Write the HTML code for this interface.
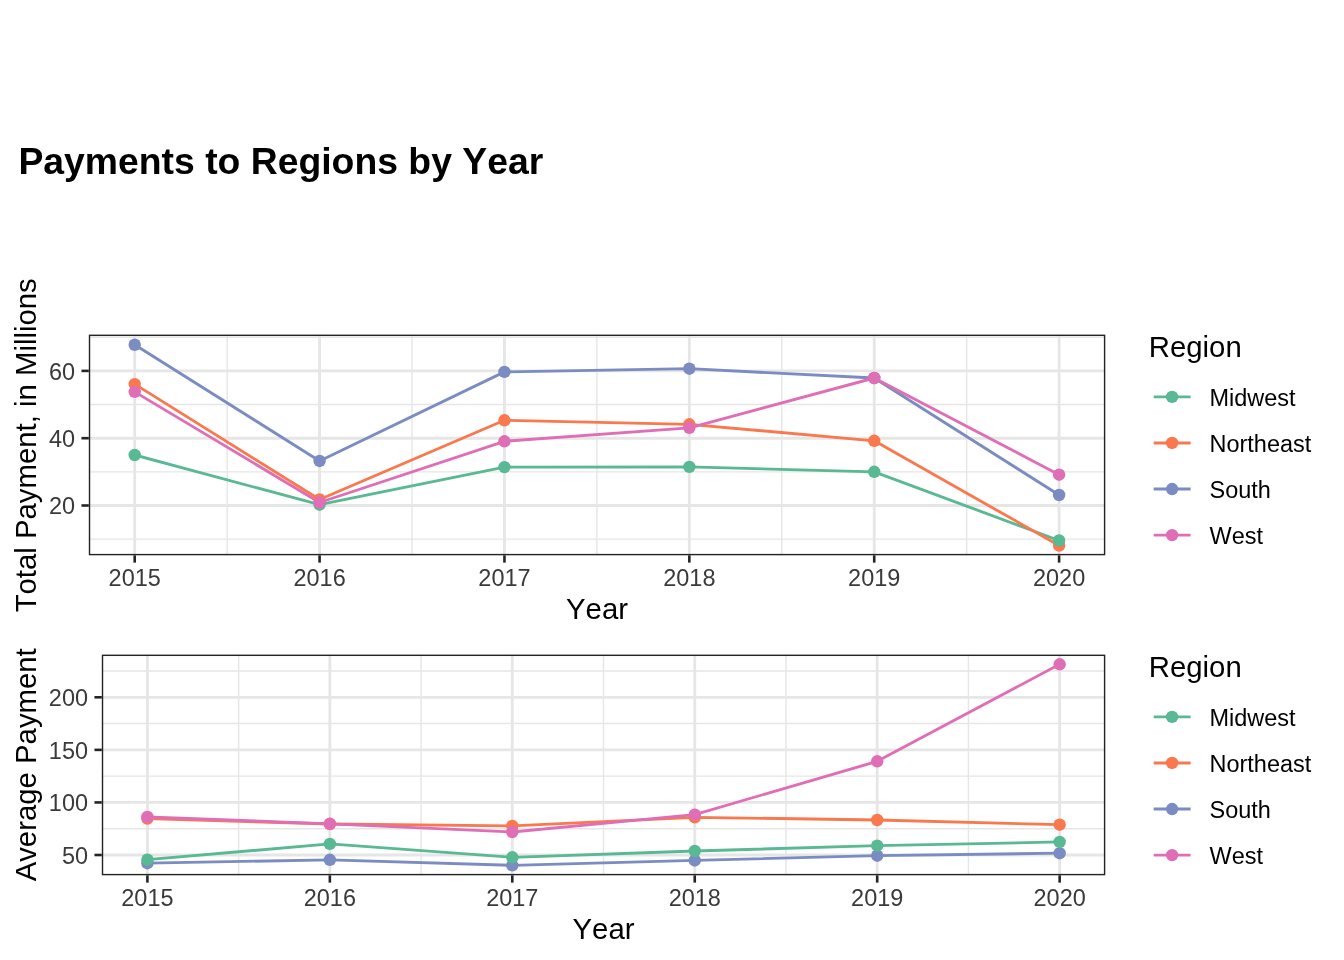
<!DOCTYPE html>
<html><head><meta charset="utf-8"><title>Payments to Regions by Year</title>
<style>html,body{margin:0;padding:0;background:#fff;overflow:hidden;}svg{display:block;will-change:transform;}text{font-family:'Liberation Sans', sans-serif;font-kerning:none;font-variant-ligatures:none;}</style>
</head><body>
<svg width="1344" height="960" viewBox="0 0 1344 960">
<rect x="0" y="0" width="1344" height="960" fill="#FFFFFF"/>
<text transform="translate(18.4,174.2)" font-size="37.33" font-weight="bold" fill="#000">Payments to Regions by Year</text>
<clipPath id="c334"><rect x="88.8" y="334.6" width="1016.5" height="220.69999999999993"/></clipPath>
<g clip-path="url(#c334)">
<line x1="88.8" x2="1105.3" y1="337.25" y2="337.25" stroke="#E6E6E6" stroke-width="1.42"/>
<line x1="88.8" x2="1105.3" y1="404.55" y2="404.55" stroke="#E6E6E6" stroke-width="1.42"/>
<line x1="88.8" x2="1105.3" y1="471.85" y2="471.85" stroke="#E6E6E6" stroke-width="1.42"/>
<line x1="88.8" x2="1105.3" y1="539.15" y2="539.15" stroke="#E6E6E6" stroke-width="1.42"/>
<line x1="227.14" x2="227.14" y1="334.6" y2="555.3" stroke="#E6E6E6" stroke-width="1.42"/>
<line x1="412.02" x2="412.02" y1="334.6" y2="555.3" stroke="#E6E6E6" stroke-width="1.42"/>
<line x1="596.90" x2="596.90" y1="334.6" y2="555.3" stroke="#E6E6E6" stroke-width="1.42"/>
<line x1="781.78" x2="781.78" y1="334.6" y2="555.3" stroke="#E6E6E6" stroke-width="1.42"/>
<line x1="966.66" x2="966.66" y1="334.6" y2="555.3" stroke="#E6E6E6" stroke-width="1.42"/>
<line x1="88.8" x2="1105.3" y1="370.90" y2="370.90" stroke="#E6E6E6" stroke-width="2.85"/>
<line x1="88.8" x2="1105.3" y1="438.20" y2="438.20" stroke="#E6E6E6" stroke-width="2.85"/>
<line x1="88.8" x2="1105.3" y1="505.50" y2="505.50" stroke="#E6E6E6" stroke-width="2.85"/>
<line x1="134.70" x2="134.70" y1="334.6" y2="555.3" stroke="#E6E6E6" stroke-width="2.85"/>
<line x1="319.58" x2="319.58" y1="334.6" y2="555.3" stroke="#E6E6E6" stroke-width="2.85"/>
<line x1="504.46" x2="504.46" y1="334.6" y2="555.3" stroke="#E6E6E6" stroke-width="2.85"/>
<line x1="689.34" x2="689.34" y1="334.6" y2="555.3" stroke="#E6E6E6" stroke-width="2.85"/>
<line x1="874.22" x2="874.22" y1="334.6" y2="555.3" stroke="#E6E6E6" stroke-width="2.85"/>
<line x1="1059.10" x2="1059.10" y1="334.6" y2="555.3" stroke="#E6E6E6" stroke-width="2.85"/>
<polyline points="134.70,455.00 319.58,504.70 504.46,467.10 689.34,466.90 874.22,471.80 1059.10,540.50" fill="none" stroke="#58B993" stroke-width="2.85" stroke-linejoin="round" stroke-linecap="butt"/>
<polyline points="134.70,384.10 319.58,499.50 504.46,420.30 689.34,424.30 874.22,440.80 1059.10,545.50" fill="none" stroke="#F9784E" stroke-width="2.85" stroke-linejoin="round" stroke-linecap="butt"/>
<polyline points="134.70,344.75 319.58,460.95 504.46,371.90 689.34,368.70 874.22,378.00 1059.10,495.00" fill="none" stroke="#7A8CC1" stroke-width="2.85" stroke-linejoin="round" stroke-linecap="butt"/>
<polyline points="134.70,391.85 319.58,502.50 504.46,441.30 689.34,427.80 874.22,378.00 1059.10,474.70" fill="none" stroke="#E06EB6" stroke-width="2.85" stroke-linejoin="round" stroke-linecap="butt"/>
<circle cx="134.70" cy="344.75" r="6.2" fill="#7A8CC1"/>
<circle cx="319.58" cy="460.95" r="6.2" fill="#7A8CC1"/>
<circle cx="504.46" cy="371.90" r="6.2" fill="#7A8CC1"/>
<circle cx="689.34" cy="368.70" r="6.2" fill="#7A8CC1"/>
<circle cx="874.22" cy="378.00" r="6.2" fill="#7A8CC1"/>
<circle cx="1059.10" cy="495.00" r="6.2" fill="#7A8CC1"/>
<circle cx="134.70" cy="384.10" r="6.2" fill="#F9784E"/>
<circle cx="319.58" cy="499.50" r="6.2" fill="#F9784E"/>
<circle cx="504.46" cy="420.30" r="6.2" fill="#F9784E"/>
<circle cx="689.34" cy="424.30" r="6.2" fill="#F9784E"/>
<circle cx="874.22" cy="440.80" r="6.2" fill="#F9784E"/>
<circle cx="1059.10" cy="545.50" r="6.2" fill="#F9784E"/>
<circle cx="134.70" cy="455.00" r="6.2" fill="#58B993"/>
<circle cx="319.58" cy="504.70" r="6.2" fill="#58B993"/>
<circle cx="504.46" cy="467.10" r="6.2" fill="#58B993"/>
<circle cx="689.34" cy="466.90" r="6.2" fill="#58B993"/>
<circle cx="874.22" cy="471.80" r="6.2" fill="#58B993"/>
<circle cx="1059.10" cy="540.50" r="6.2" fill="#58B993"/>
<circle cx="134.70" cy="391.85" r="6.2" fill="#E06EB6"/>
<circle cx="319.58" cy="502.50" r="6.2" fill="#E06EB6"/>
<circle cx="504.46" cy="441.30" r="6.2" fill="#E06EB6"/>
<circle cx="689.34" cy="427.80" r="6.2" fill="#E06EB6"/>
<circle cx="874.22" cy="378.00" r="6.2" fill="#E06EB6"/>
<circle cx="1059.10" cy="474.70" r="6.2" fill="#E06EB6"/>
</g>
<rect x="89.51" y="335.31" width="1015.08" height="219.28" fill="none" stroke="#242424" stroke-width="1.42"/>
<line x1="81.47" x2="88.8" y1="370.90" y2="370.90" stroke="#242424" stroke-width="2.6"/>
<line x1="81.47" x2="88.8" y1="438.20" y2="438.20" stroke="#242424" stroke-width="2.6"/>
<line x1="81.47" x2="88.8" y1="505.50" y2="505.50" stroke="#242424" stroke-width="2.6"/>
<line x1="134.70" x2="134.70" y1="555.3" y2="562.63" stroke="#242424" stroke-width="2.6"/>
<line x1="319.58" x2="319.58" y1="555.3" y2="562.63" stroke="#242424" stroke-width="2.6"/>
<line x1="504.46" x2="504.46" y1="555.3" y2="562.63" stroke="#242424" stroke-width="2.6"/>
<line x1="689.34" x2="689.34" y1="555.3" y2="562.63" stroke="#242424" stroke-width="2.6"/>
<line x1="874.22" x2="874.22" y1="555.3" y2="562.63" stroke="#242424" stroke-width="2.6"/>
<line x1="1059.10" x2="1059.10" y1="555.3" y2="562.63" stroke="#242424" stroke-width="2.6"/>
<text x="75.1" y="380.20" text-anchor="end" font-size="23.47" fill="#3A3A3A">60</text>
<text x="75.1" y="446.60" text-anchor="end" font-size="23.47" fill="#3A3A3A">40</text>
<text x="75.1" y="514.10" text-anchor="end" font-size="23.47" fill="#3A3A3A">20</text>
<text x="134.70" y="585.8" text-anchor="middle" font-size="23.47" fill="#3A3A3A">2015</text>
<text x="319.58" y="585.8" text-anchor="middle" font-size="23.47" fill="#3A3A3A">2016</text>
<text x="504.46" y="585.8" text-anchor="middle" font-size="23.47" fill="#3A3A3A">2017</text>
<text x="689.34" y="585.8" text-anchor="middle" font-size="23.47" fill="#3A3A3A">2018</text>
<text x="874.22" y="585.8" text-anchor="middle" font-size="23.47" fill="#3A3A3A">2019</text>
<text x="1059.10" y="585.8" text-anchor="middle" font-size="23.47" fill="#3A3A3A">2020</text>
<text x="597.0" y="618.8" text-anchor="middle" font-size="29.33" fill="#000">Year</text>
<text transform="translate(35.7,445.30) rotate(-90)" text-anchor="middle" font-size="29.33" fill="#000">Total Payment, in Millions</text>
<text x="1148.8" y="357" font-size="29.33" fill="#000">Region</text>
<line x1="1153.7" x2="1190.6" y1="396.90" y2="396.90" stroke="#58B993" stroke-width="2.85"/>
<circle cx="1172.1" cy="396.90" r="6.2" fill="#58B993"/>
<text x="1209.5" y="405.90" font-size="23.47" fill="#000">Midwest</text>
<line x1="1153.7" x2="1190.6" y1="442.97" y2="442.97" stroke="#F9784E" stroke-width="2.85"/>
<circle cx="1172.1" cy="442.97" r="6.2" fill="#F9784E"/>
<text x="1209.5" y="451.97" font-size="23.47" fill="#000">Northeast</text>
<line x1="1153.7" x2="1190.6" y1="489.04" y2="489.04" stroke="#7A8CC1" stroke-width="2.85"/>
<circle cx="1172.1" cy="489.04" r="6.2" fill="#7A8CC1"/>
<text x="1209.5" y="498.04" font-size="23.47" fill="#000">South</text>
<line x1="1153.7" x2="1190.6" y1="535.11" y2="535.11" stroke="#E06EB6" stroke-width="2.85"/>
<circle cx="1172.1" cy="535.11" r="6.2" fill="#E06EB6"/>
<text x="1209.5" y="544.11" font-size="23.47" fill="#000">West</text>
<clipPath id="c654"><rect x="101.8" y="654.6" width="1003.5" height="220.69999999999993"/></clipPath>
<g clip-path="url(#c654)">
<line x1="101.8" x2="1105.3" y1="671.02" y2="671.02" stroke="#E6E6E6" stroke-width="1.42"/>
<line x1="101.8" x2="1105.3" y1="723.58" y2="723.58" stroke="#E6E6E6" stroke-width="1.42"/>
<line x1="101.8" x2="1105.3" y1="776.15" y2="776.15" stroke="#E6E6E6" stroke-width="1.42"/>
<line x1="101.8" x2="1105.3" y1="828.72" y2="828.72" stroke="#E6E6E6" stroke-width="1.42"/>
<line x1="238.62" x2="238.62" y1="654.6" y2="875.3" stroke="#E6E6E6" stroke-width="1.42"/>
<line x1="421.07" x2="421.07" y1="654.6" y2="875.3" stroke="#E6E6E6" stroke-width="1.42"/>
<line x1="603.52" x2="603.52" y1="654.6" y2="875.3" stroke="#E6E6E6" stroke-width="1.42"/>
<line x1="785.97" x2="785.97" y1="654.6" y2="875.3" stroke="#E6E6E6" stroke-width="1.42"/>
<line x1="968.42" x2="968.42" y1="654.6" y2="875.3" stroke="#E6E6E6" stroke-width="1.42"/>
<line x1="101.8" x2="1105.3" y1="697.30" y2="697.30" stroke="#E6E6E6" stroke-width="2.85"/>
<line x1="101.8" x2="1105.3" y1="749.87" y2="749.87" stroke="#E6E6E6" stroke-width="2.85"/>
<line x1="101.8" x2="1105.3" y1="802.43" y2="802.43" stroke="#E6E6E6" stroke-width="2.85"/>
<line x1="101.8" x2="1105.3" y1="855.00" y2="855.00" stroke="#E6E6E6" stroke-width="2.85"/>
<line x1="147.40" x2="147.40" y1="654.6" y2="875.3" stroke="#E6E6E6" stroke-width="2.85"/>
<line x1="329.85" x2="329.85" y1="654.6" y2="875.3" stroke="#E6E6E6" stroke-width="2.85"/>
<line x1="512.30" x2="512.30" y1="654.6" y2="875.3" stroke="#E6E6E6" stroke-width="2.85"/>
<line x1="694.75" x2="694.75" y1="654.6" y2="875.3" stroke="#E6E6E6" stroke-width="2.85"/>
<line x1="877.20" x2="877.20" y1="654.6" y2="875.3" stroke="#E6E6E6" stroke-width="2.85"/>
<line x1="1059.65" x2="1059.65" y1="654.6" y2="875.3" stroke="#E6E6E6" stroke-width="2.85"/>
<polyline points="147.40,859.70 329.85,843.90 512.30,857.30 694.75,851.00 877.20,845.70 1059.65,841.95" fill="none" stroke="#58B993" stroke-width="2.85" stroke-linejoin="round" stroke-linecap="butt"/>
<polyline points="147.40,818.60 329.85,824.00 512.30,825.90 694.75,817.30 877.20,820.00 1059.65,824.70" fill="none" stroke="#F9784E" stroke-width="2.85" stroke-linejoin="round" stroke-linecap="butt"/>
<polyline points="147.40,863.20 329.85,859.80 512.30,865.30 694.75,860.45 877.20,855.70 1059.65,853.20" fill="none" stroke="#7A8CC1" stroke-width="2.85" stroke-linejoin="round" stroke-linecap="butt"/>
<polyline points="147.40,817.00 329.85,823.80 512.30,832.00 694.75,814.60 877.20,761.30 1059.65,664.30" fill="none" stroke="#E06EB6" stroke-width="2.85" stroke-linejoin="round" stroke-linecap="butt"/>
<circle cx="147.40" cy="863.20" r="6.2" fill="#7A8CC1"/>
<circle cx="329.85" cy="859.80" r="6.2" fill="#7A8CC1"/>
<circle cx="512.30" cy="865.30" r="6.2" fill="#7A8CC1"/>
<circle cx="694.75" cy="860.45" r="6.2" fill="#7A8CC1"/>
<circle cx="877.20" cy="855.70" r="6.2" fill="#7A8CC1"/>
<circle cx="1059.65" cy="853.20" r="6.2" fill="#7A8CC1"/>
<circle cx="147.40" cy="818.60" r="6.2" fill="#F9784E"/>
<circle cx="329.85" cy="824.00" r="6.2" fill="#F9784E"/>
<circle cx="512.30" cy="825.90" r="6.2" fill="#F9784E"/>
<circle cx="694.75" cy="817.30" r="6.2" fill="#F9784E"/>
<circle cx="877.20" cy="820.00" r="6.2" fill="#F9784E"/>
<circle cx="1059.65" cy="824.70" r="6.2" fill="#F9784E"/>
<circle cx="147.40" cy="859.70" r="6.2" fill="#58B993"/>
<circle cx="329.85" cy="843.90" r="6.2" fill="#58B993"/>
<circle cx="512.30" cy="857.30" r="6.2" fill="#58B993"/>
<circle cx="694.75" cy="851.00" r="6.2" fill="#58B993"/>
<circle cx="877.20" cy="845.70" r="6.2" fill="#58B993"/>
<circle cx="1059.65" cy="841.95" r="6.2" fill="#58B993"/>
<circle cx="147.40" cy="817.00" r="6.2" fill="#E06EB6"/>
<circle cx="329.85" cy="823.80" r="6.2" fill="#E06EB6"/>
<circle cx="512.30" cy="832.00" r="6.2" fill="#E06EB6"/>
<circle cx="694.75" cy="814.60" r="6.2" fill="#E06EB6"/>
<circle cx="877.20" cy="761.30" r="6.2" fill="#E06EB6"/>
<circle cx="1059.65" cy="664.30" r="6.2" fill="#E06EB6"/>
</g>
<rect x="102.51" y="655.31" width="1002.08" height="219.28" fill="none" stroke="#242424" stroke-width="1.42"/>
<line x1="94.47" x2="101.8" y1="697.30" y2="697.30" stroke="#242424" stroke-width="2.6"/>
<line x1="94.47" x2="101.8" y1="749.87" y2="749.87" stroke="#242424" stroke-width="2.6"/>
<line x1="94.47" x2="101.8" y1="802.43" y2="802.43" stroke="#242424" stroke-width="2.6"/>
<line x1="94.47" x2="101.8" y1="855.00" y2="855.00" stroke="#242424" stroke-width="2.6"/>
<line x1="147.40" x2="147.40" y1="875.3" y2="882.63" stroke="#242424" stroke-width="2.6"/>
<line x1="329.85" x2="329.85" y1="875.3" y2="882.63" stroke="#242424" stroke-width="2.6"/>
<line x1="512.30" x2="512.30" y1="875.3" y2="882.63" stroke="#242424" stroke-width="2.6"/>
<line x1="694.75" x2="694.75" y1="875.3" y2="882.63" stroke="#242424" stroke-width="2.6"/>
<line x1="877.20" x2="877.20" y1="875.3" y2="882.63" stroke="#242424" stroke-width="2.6"/>
<line x1="1059.65" x2="1059.65" y1="875.3" y2="882.63" stroke="#242424" stroke-width="2.6"/>
<text x="88.0" y="705.70" text-anchor="end" font-size="23.47" fill="#3A3A3A">200</text>
<text x="88.0" y="759.15" text-anchor="end" font-size="23.47" fill="#3A3A3A">150</text>
<text x="88.0" y="811.40" text-anchor="end" font-size="23.47" fill="#3A3A3A">100</text>
<text x="88.0" y="864.35" text-anchor="end" font-size="23.47" fill="#3A3A3A">50</text>
<text x="147.40" y="905.6" text-anchor="middle" font-size="23.47" fill="#3A3A3A">2015</text>
<text x="329.85" y="905.6" text-anchor="middle" font-size="23.47" fill="#3A3A3A">2016</text>
<text x="512.30" y="905.6" text-anchor="middle" font-size="23.47" fill="#3A3A3A">2017</text>
<text x="694.75" y="905.6" text-anchor="middle" font-size="23.47" fill="#3A3A3A">2018</text>
<text x="877.20" y="905.6" text-anchor="middle" font-size="23.47" fill="#3A3A3A">2019</text>
<text x="1059.65" y="905.6" text-anchor="middle" font-size="23.47" fill="#3A3A3A">2020</text>
<text x="603.5" y="938.8" text-anchor="middle" font-size="29.33" fill="#000">Year</text>
<text transform="translate(35.7,764.80) rotate(-90)" text-anchor="middle" font-size="29.33" fill="#000">Average Payment</text>
<text x="1148.8" y="677" font-size="29.33" fill="#000">Region</text>
<line x1="1153.7" x2="1190.6" y1="716.90" y2="716.90" stroke="#58B993" stroke-width="2.85"/>
<circle cx="1172.1" cy="716.90" r="6.2" fill="#58B993"/>
<text x="1209.5" y="725.90" font-size="23.47" fill="#000">Midwest</text>
<line x1="1153.7" x2="1190.6" y1="762.97" y2="762.97" stroke="#F9784E" stroke-width="2.85"/>
<circle cx="1172.1" cy="762.97" r="6.2" fill="#F9784E"/>
<text x="1209.5" y="771.97" font-size="23.47" fill="#000">Northeast</text>
<line x1="1153.7" x2="1190.6" y1="809.04" y2="809.04" stroke="#7A8CC1" stroke-width="2.85"/>
<circle cx="1172.1" cy="809.04" r="6.2" fill="#7A8CC1"/>
<text x="1209.5" y="818.04" font-size="23.47" fill="#000">South</text>
<line x1="1153.7" x2="1190.6" y1="855.11" y2="855.11" stroke="#E06EB6" stroke-width="2.85"/>
<circle cx="1172.1" cy="855.11" r="6.2" fill="#E06EB6"/>
<text x="1209.5" y="864.11" font-size="23.47" fill="#000">West</text>
</svg></body></html>
